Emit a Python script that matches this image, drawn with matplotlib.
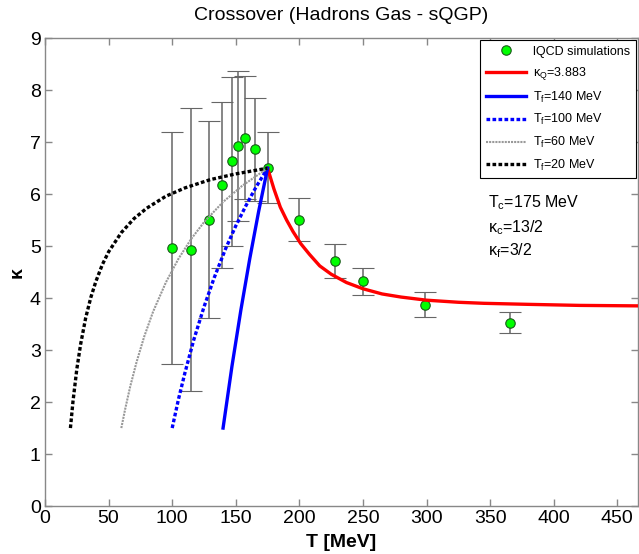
import numpy as np
import matplotlib
matplotlib.use("Agg")
import matplotlib.pyplot as plt

plt.rcParams['font.family'] = ['Liberation Sans', 'DejaVu Sans']
plt.rcParams['mathtext.default'] = 'regular'

# lattice QCD points (T in MeV, kappa, symmetric error)
T_lqcd = [100, 115, 129, 139, 147, 152, 157.5, 165.5, 175, 200, 228, 250, 298.5, 365.5]
k_lqcd = [4.96, 4.93, 5.51, 6.18, 6.63, 6.93, 7.09, 6.86, 6.51, 5.51, 4.72, 4.32, 3.87, 3.53]
k_err = [2.23, 2.72, 1.90, 1.60, 1.62, 1.44, 1.19, 0.99, 0.68, 0.41, 0.33, 0.26, 0.24, 0.20]

# QGP side, kappa_Q = 3.883
T_qgp = [175, 180, 185, 190, 195, 201, 208, 216, 225, 237, 250, 265, 280, 300, 325, 345, 380, 420, 470]
k_qgp = [6.5, 6.1, 5.75, 5.5, 5.28, 5.05, 4.84, 4.62, 4.46, 4.30, 4.18, 4.08, 4.02, 3.96, 3.92, 3.90, 3.88, 3.86, 3.85]

# hadron gas side for the different freeze-out temperatures
T_f140 = [140, 147, 154, 161, 168, 175]
k_f140 = [1.5, 2.69, 3.77, 4.76, 5.67, 6.5]

T_f100 = [100, 105, 110, 117, 125, 133, 142, 150, 158, 166, 175]
k_f100 = [1.5, 2.06, 2.56, 3.20, 3.83, 4.39, 4.95, 5.39, 5.78, 6.14, 6.5]

T_f60 = [60, 63, 67, 72, 78, 85, 95, 105, 115, 125, 140, 155, 175]
k_f60 = [1.5, 1.86, 2.30, 2.77, 3.26, 3.74, 4.30, 4.76, 5.14, 5.46, 5.85, 6.16, 6.5]

T_f20 = [20, 22, 25, 28, 32, 36, 40, 45, 50, 60, 70, 80, 95, 110, 130, 150, 175]
k_f20 = [1.5, 2.01, 2.63, 3.11, 3.62, 4.01, 4.32, 4.64, 4.89, 5.26, 5.53, 5.73, 5.96, 6.12, 6.28, 6.39, 6.5]

fig = plt.figure(figsize=(6.39, 5.54), dpi=100)
ax = fig.add_axes([0.0704, 0.0866, 0.9276, 0.8444])

eb = ax.errorbar(T_lqcd, k_lqcd, yerr=k_err, fmt='o', color='#666666', ecolor='#666666',
                 elinewidth=1.1, capsize=8, capthick=1.1, markersize=6.8,
                 markerfacecolor='#00ff00', markeredgecolor='#1a5a1a', markeredgewidth=0.8,
                 zorder=2)

l_q, = ax.plot(T_qgp, k_qgp, color='red', lw=2.4, zorder=3)
l_140, = ax.plot(T_f140, k_f140, color='#0000ff', lw=2.4, zorder=3)
l_100, = ax.plot(T_f100, k_f100, color='#0000ff', lw=2.4, linestyle=(0, (1.1, 0.7)), zorder=3)
l_60, = ax.plot(T_f60, k_f60, color='#999999', lw=1.5, linestyle=(0, (1.0, 0.5)), zorder=3)
l_20, = ax.plot(T_f20, k_f20, color='black', lw=2.4, linestyle=(0, (1.1, 0.7)), zorder=3)

ax.set_xlim(0, 466)
ax.set_ylim(0, 9)
ax.set_xticks(np.arange(0, 451, 50))
ax.set_yticks(np.arange(0, 10, 1))

ax.tick_params(direction='in', top=True, right=True, length=5, width=1,
               color='#888888', labelsize=14, pad=3)
for s in ax.spines.values():
    s.set_color('#888888')
    s.set_linewidth(1)

ax.set_title('Crossover (Hadrons Gas - sQGP)', fontsize=14, pad=13)
ax.set_xlabel('T [MeV]', fontsize=14, fontweight='bold', labelpad=5)
ax.set_ylabel('κ', fontsize=14, fontweight='bold')
ax.yaxis.set_label_coords(-0.033, 0.5)

ax.text(348, 5.83, 'T$_c$=175 MeV', fontsize=11.5, va='center')
ax.text(348, 5.35, 'κ$_c$=13/2', fontsize=11.5, va='center')
ax.text(348, 4.92, 'κ$_f$=3/2', fontsize=11.5, va='center')

# marker only for the lQCD entry
leg = ax.legend([eb[0], l_q, l_140, l_100, l_60, l_20],
                ['lQCD simulations', 'κ$_Q$=3.883', 'T$_f$=140 MeV',
                 'T$_f$=100 MeV', 'T$_f$=60 MeV', 'T$_f$=20 MeV'],
                loc='upper right', fontsize=9, fancybox=False, framealpha=1,
                edgecolor='black', borderaxespad=0.15, handlelength=3.2,
                labelspacing=0.6, borderpad=0.45, handletextpad=0.6)
leg.get_frame().set_linewidth(0.8)

plt.savefig('out.png', dpi=100)
